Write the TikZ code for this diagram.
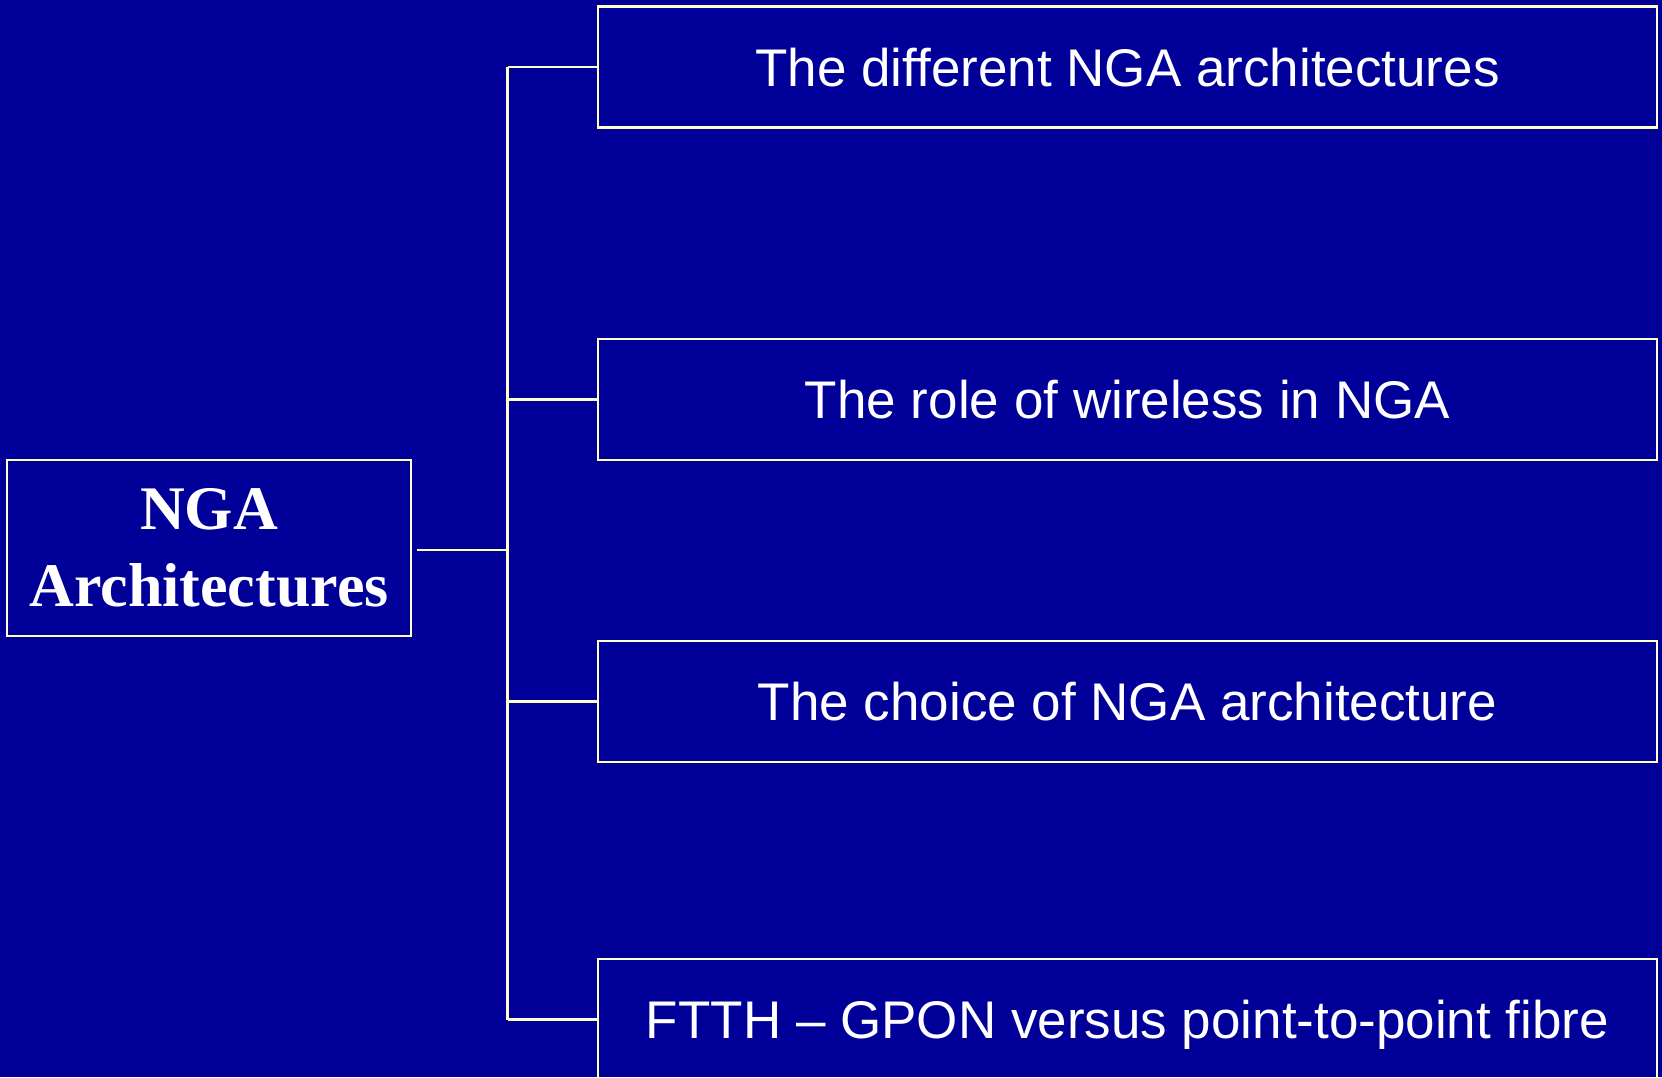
\documentclass[tikz,border=0pt]{standalone}
\usepackage{fontspec}
\setmainfont{Liberation Sans}
\newfontfamily\titleserif{Liberation Serif}
\definecolor{bgblue}{HTML}{000099}
\definecolor{cream}{HTML}{FFFFCC}
\begin{document}
\begin{tikzpicture}[x=1pt,y=-1pt,
  topicbox/.style={draw=cream, line width=2.5pt, text=white, inner sep=0pt,
    minimum width=1059pt, minimum height=121pt, text height=38pt, text depth=0pt,
    font=\fontsize{53}{60}\selectfont},
  rootbox/.style={draw=cream, line width=2.5pt, text=white, inner sep=0pt,
    minimum width=404pt, minimum height=176pt, align=center,
    font=\titleserif\bfseries\fontsize{62}{77}\selectfont},
  conn/.style={draw=cream, line width=2.5pt}]
\fill[bgblue] (0,0) rectangle (1662,1077);
\useasboundingbox (0,0) rectangle (1662,1077);

\node[rootbox] (root) at (209,548) {NGA\\Architectures};

\node[topicbox] (t1) at (1127.5,67) {The different NGA architectures};
\node[topicbox] (t2) at (1127.5,399.5) {The role of wireless in NGA};
\node[topicbox] (t3) at (1127.5,701.5) {The choice of NGA architecture};
\node[topicbox] (t4) at (1127.5,1019.5) {FTTH – GPON versus point-to-point fibre};

\coordinate (bustop) at (507.5,67);
\coordinate (busbot) at (507.5,1019.5);
\coordinate (busroot) at (507.5,550);
\coordinate (rootout) at (417,550);

\draw[conn] (rootout) -- (busroot);
\draw[conn] (bustop) -- (busbot);
\draw[conn] (bustop) -- (t1.west);
\draw[conn] (t2.west -| busroot) -- (t2.west);
\draw[conn] (t3.west -| busroot) -- (t3.west);
\draw[conn] (busbot) -- (t4.west);
\end{tikzpicture}
\end{document}
